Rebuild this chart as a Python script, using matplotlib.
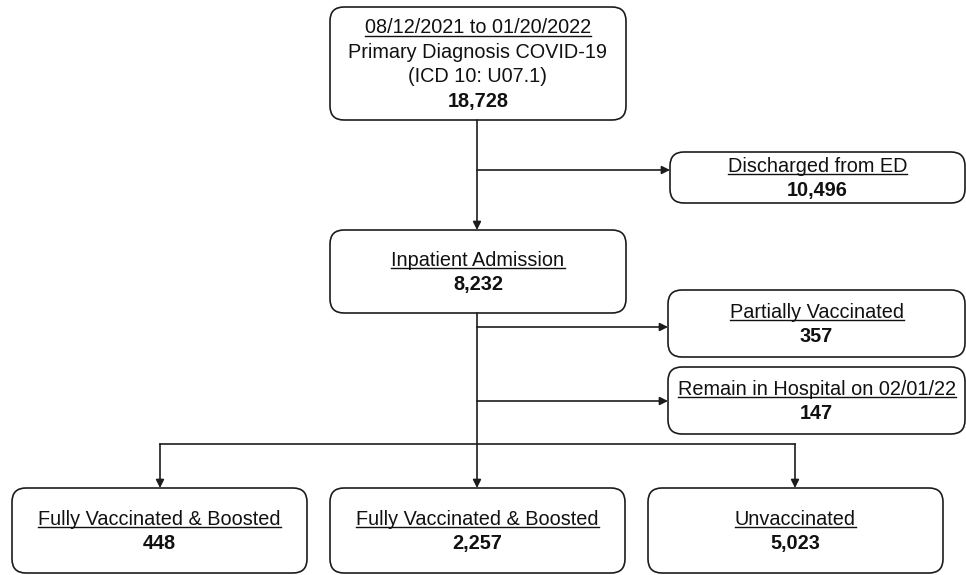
import matplotlib.pyplot as plt
from matplotlib.patches import FancyBboxPatch

plt.rcParams['font.family'] = ['Liberation Sans', 'DejaVu Sans']

# box contents: underlined title, extra plain lines, bold count
titles = ["08/12/2021 to 01/20/2022", "Discharged from ED", "Inpatient Admission",
          "Partially Vaccinated", "Remain in Hospital on 02/01/22",
          "Fully Vaccinated & Boosted", "Fully Vaccinated & Boosted", "Unvaccinated"]
extra_lines = [["Primary Diagnosis COVID-19", "(ICD 10: U07.1)"], [], [], [], [], [], [], []]
counts = [18728, 10496, 8232, 357, 147, 448, 2257, 5023]

# layout in pixels (x0, y0, x1, y1), y downward
boxes = [(330, 7, 626, 120), (670, 152, 965, 203), (330, 230, 626, 313),
         (668, 290, 965, 357), (668, 367, 965, 434),
         (12, 488, 307, 573), (330, 488, 625, 573), (648, 488, 943, 573)]

W, H = 966, 575
fig = plt.figure(figsize=(W / 100, H / 100), dpi=100)
ax = fig.add_axes([0, 0, 1, 1])
ax.set_xlim(0, W)
ax.set_ylim(H, 0)
ax.axis('off')

lc = '#1c1c1c'
fs = 14.3
line_h = 24.5

texts = []
for (x0, y0, x1, y1), title, extra, n in zip(boxes, titles, extra_lines, counts):
    ax.add_patch(FancyBboxPatch((x0, y0), x1 - x0, y1 - y0,
                                boxstyle="round,pad=0,rounding_size=14",
                                fc='white', ec=lc, lw=1.2))
    lines = [title] + extra + [f"{n:,}"]
    cx = (x0 + x1) / 2
    cy = (y0 + y1) / 2 + 1
    start = cy - line_h * (len(lines) - 1) / 2
    for i, s in enumerate(lines):
        t = ax.text(cx, start + i * line_h, s, ha='center', va='center', fontsize=fs,
                    fontweight='bold' if i == len(lines) - 1 else 'normal', color='#111')
        if i == 0:
            texts.append(t)

# underline titles
fig.canvas.draw()
r = fig.canvas.get_renderer()
inv = ax.transData.inverted()
for t in texts:
    bb = t.get_window_extent(r)
    (xa, ya), (xb, yb) = inv.transform([[bb.x0, bb.y0], [bb.x1, bb.y1]])
    ax.plot([xa, xb], [ya - 1.5, ya - 1.5], color='#111', lw=1.0)


def arrow(x0, y0, x1, y1):
    ax.annotate('', xy=(x1, y1), xytext=(x0, y0),
                arrowprops=dict(arrowstyle='-|>', color=lc, lw=1.2,
                                mutation_scale=12, shrinkA=0, shrinkB=0))


xm = 477
arrow(xm, 120, xm, 230)
arrow(xm, 170, 670, 170)
arrow(xm, 313, xm, 488)
arrow(xm, 327, 668, 327)
arrow(xm, 401, 668, 401)
ax.plot([160, 795], [444, 444], color=lc, lw=1.2)
arrow(160, 444, 160, 488)
arrow(795, 444, 795, 488)

fig.savefig("out.png", dpi=100)
